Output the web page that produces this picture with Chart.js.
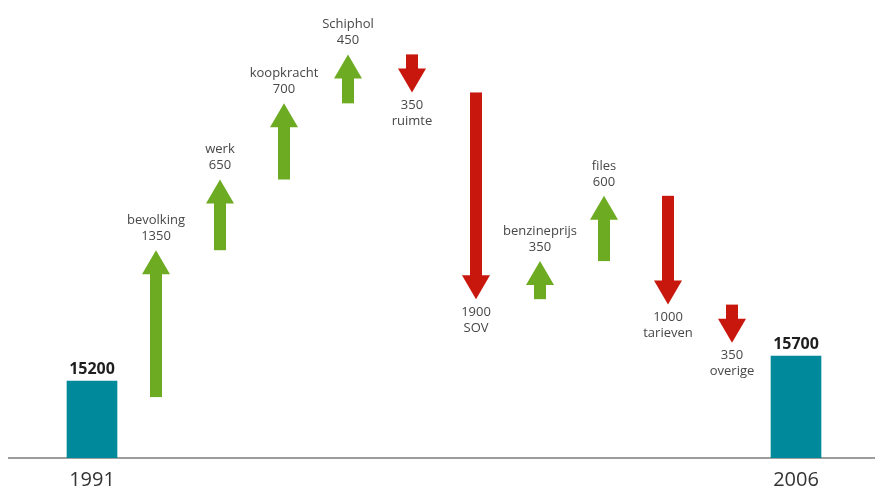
<!DOCTYPE html>
<html>
<head>
<meta charset="utf-8">
<script src="https://cdn.jsdelivr.net/npm/chart.js@4.4.1/dist/chart.umd.min.js"></script>
<style>
  html, body { margin: 0; padding: 0; background: #fff; }
  #wrap { width: 875px; height: 489px; }
</style>
</head>
<body>
<div id="wrap"><canvas id="autoChart"></canvas></div>
<script>
const years = ['1991', '2006'];
const totals = [15200, 15700];
const factors = ['bevolking', 'werk', 'koopkracht', 'Schiphol', 'ruimte', 'SOV', 'benzineprijs', 'files', 'tarieven', 'overige'];
const changes = [1350, 650, 700, 450, -350, -1900, 350, 600, -1000, -350];

const FONT = '"Open Sans", "DejaVu Sans", sans-serif';
const TEAL = '#00899a';
const GREEN = '#6cab22';
const RED = '#c8170c';

const labels = [years[0], ...factors, years[1]];
const last = labels.length - 1;
const totalData = labels.map((l, i) => i === 0 ? totals[0] : (i === last ? totals[1] : null));

// waterfall steps: each arrow runs from the running total to the new one
let running = totals[0];
const stepData = [null];
changes.forEach(c => {
    stepData.push([running, running + c]);
    running += c;
});
stepData.push(null);

const arrowPlugin = {
    id: 'arrows',
    beforeDatasetsDraw(chart) {
        // baseline under the bars, running across the whole width
        const ctx = chart.ctx;
        const x = chart.scales.x;
        ctx.save();
        ctx.strokeStyle = '#9c9c9c';
        ctx.lineWidth = 2;
        ctx.beginPath();
        ctx.moveTo(8, x.top);
        ctx.lineTo(chart.width, x.top);
        ctx.stroke();
        ctx.restore();
    },
    afterDatasetsDraw(chart) {
        const ctx = chart.ctx;
        const yScale = chart.scales.y;
        ctx.save();
        ctx.textAlign = 'center';
        ctx.textBaseline = 'middle';

        // arrows with their labels
        ctx.font = '13px ' + FONT;
        chart.getDatasetMeta(1).data.forEach((el, i) => {
            const v = stepData[i];
            if (!v) return;
            const up = v[1] > v[0];
            const tail = yScale.getPixelForValue(v[0]);
            const tip = yScale.getPixelForValue(v[1]);
            const dir = up ? -1 : 1;
            const neck = tip - dir * 24;
            const x = el.x;
            ctx.fillStyle = up ? GREEN : RED;
            ctx.fillRect(x - 6, Math.min(tail, neck + dir), 12, Math.abs(neck + dir - tail));
            ctx.beginPath();
            ctx.moveTo(x - 14, neck);
            ctx.lineTo(x + 14, neck);
            ctx.lineTo(x, tip);
            ctx.closePath();
            ctx.fill();

            const amount = String(Math.abs(changes[i - 1]));
            ctx.fillStyle = '#474747';
            if (up) {
                ctx.fillText(factors[i - 1], x, tip - 30);
                ctx.fillText(amount, x, tip - 14);
            } else {
                ctx.fillText(amount, x, tip + 13);
                ctx.fillText(factors[i - 1], x, tip + 29);
            }
        });

        // totals above the teal bars
        ctx.font = 'bold 16px ' + FONT;
        ctx.fillStyle = '#1e1e1e';
        chart.getDatasetMeta(0).data.forEach((el, i) => {
            if (totalData[i] == null) return;
            ctx.fillText(String(totalData[i]), el.x, el.y - 12);
        });
        ctx.restore();
    }
};

const ctx = document.getElementById('autoChart').getContext('2d');
new Chart(ctx, {
    type: 'bar',
    data: {
        labels: labels,
        datasets: [{
            label: 'totaal',
            data: totalData,
            yAxisID: 'y2',
            backgroundColor: TEAL,
            barThickness: 50,
            grouped: false
        }, {
            label: 'verandering',
            data: stepData,
            yAxisID: 'y',
            backgroundColor: 'rgba(0,0,0,0)',
            barThickness: 28,
            grouped: false
        }]
    },
    options: {
        responsive: true,
        maintainAspectRatio: false,
        animation: false,
        layout: { padding: { left: 60, right: 47, top: 0, bottom: 0 } },
        plugins: {
            legend: { display: false },
            tooltip: { enabled: false }
        },
        scales: {
            x: {
                type: 'category',
                offset: true,
                grid: { display: false, drawTicks: false },
                border: { display: false },
                ticks: {
                    autoSkip: false,
                    maxRotation: 0,
                    padding: 10,
                    color: '#333',
                    font: { family: FONT, size: 20 },
                    callback: (v, i) => (i === 0 || i === last) ? labels[i] : ''
                },
                afterFit: (scale) => { scale.height = 31; }
            },
            y: { display: false, min: 14640, max: 18850 },
            y2: { display: false, min: 13660, max: 22820 }
        }
    },
    plugins: [arrowPlugin]
});
</script>
</body>
</html>
